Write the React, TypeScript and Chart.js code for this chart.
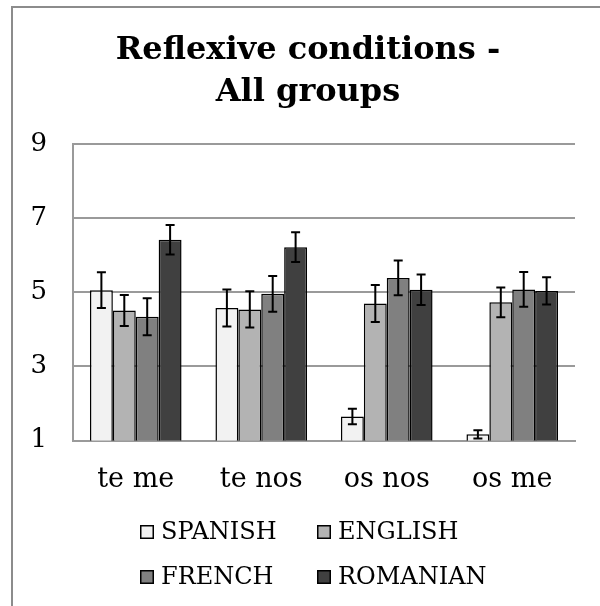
import React, { useEffect, useRef } from "react";
import { Chart, registerables } from "chart.js";

Chart.register(...registerables);

const categories = ["te me", "te nos", "os nos", "os me"];
const seriesNames = ["SPANISH", "ENGLISH", "FRENCH", "ROMANIAN"];
const spanish = [5.06, 4.58, 1.65, 1.17];
const english = [4.51, 4.54, 4.7, 4.73];
const french = [4.34, 4.96, 5.39, 5.08];
const romanian = [6.42, 6.22, 5.07, 5.04];
const spanishErr = [0.48, 0.5, 0.21, 0.11];
const englishErr = [0.42, 0.49, 0.5, 0.4];
const frenchErr = [0.5, 0.48, 0.47, 0.47];
const romanianErr = [0.4, 0.4, 0.41, 0.37];
const yTicks = [1, 3, 5, 7, 9];
const titleLines = ["Reflexive conditions -", "All groups"];

const colors = ["#f2f2f2", "#b3b3b3", "#808080", "#404040"];
const FONT = "'DejaVu Serif', serif";

const errorBarPlugin = {
  id: "errorBars",
  afterDatasetsDraw(chart: any) {
    const ctx = chart.ctx;
    const yScale = chart.scales.y;
    ctx.save();
    ctx.strokeStyle = "#000";
    ctx.lineWidth = 2;
    chart.data.datasets.forEach((ds: any, i: number) => {
      const meta = chart.getDatasetMeta(i);
      meta.data.forEach((bar: any, j: number) => {
        const v = ds.data[j];
        const e = ds.errors[j];
        const top = yScale.getPixelForValue(v + e);
        const bot = yScale.getPixelForValue(v - e);
        const x = bar.x;
        const cap = 4.5;
        ctx.beginPath();
        ctx.moveTo(x, top);
        ctx.lineTo(x, bot);
        ctx.moveTo(x - cap, top);
        ctx.lineTo(x + cap, top);
        ctx.moveTo(x - cap, bot);
        ctx.lineTo(x + cap, bot);
        ctx.stroke();
      });
    });
    ctx.restore();
  },
};

const frameLegendPlugin = {
  id: "frameLegend",
  beforeDraw(chart: any) {
    const ctx = chart.ctx;
    ctx.save();
    ctx.fillStyle = "#fff";
    ctx.fillRect(0, 0, chart.width, chart.height);
    ctx.strokeStyle = "#8c8c8c";
    ctx.lineWidth = 2;
    ctx.beginPath();
    ctx.moveTo(12, chart.height);
    ctx.lineTo(12, 7);
    ctx.lineTo(chart.width, 7);
    ctx.stroke();
    ctx.restore();
  },
  afterDraw(chart: any) {
    const ctx = chart.ctx;
    const colX = [140, 317];
    const rowY = [532, 577];
    ctx.save();
    ctx.font = `24px ${FONT}`;
    ctx.textBaseline = "middle";
    ctx.textAlign = "left";
    chart.data.datasets.forEach((ds: any, i: number) => {
      const x = colX[i % 2];
      const y = rowY[Math.floor(i / 2)];
      ctx.fillStyle = ds.backgroundColor;
      ctx.fillRect(x, y - 7, 14, 14);
      ctx.strokeStyle = "#000";
      ctx.lineWidth = 1.5;
      ctx.strokeRect(x + 0.75, y - 6.25, 12.5, 12.5);
      ctx.fillStyle = "#000";
      ctx.fillText(ds.label, x + 21, y + 1);
    });
    ctx.restore();
  },
};

export default function App() {
  const ref = useRef<HTMLCanvasElement>(null);
  useEffect(() => {
    document.body.style.margin = "0";
    const series = [spanish, english, french, romanian];
    const errs = [spanishErr, englishErr, frenchErr, romanianErr];
    const chart = new Chart(ref.current as HTMLCanvasElement, {
      type: "bar",
      data: {
        labels: categories,
        datasets: series.map((d, i) => ({
          label: seriesNames[i],
          data: d,
          errors: errs[i],
          backgroundColor: colors[i],
          borderColor: "#000",
          borderWidth: 1.5,
          categoryPercentage: 0.73,
          barPercentage: 1.0,
          yAxisID: "y",
        })) as any,
      },
      options: {
        animation: false,
        responsive: true,
        maintainAspectRatio: false,
        layout: { padding: { left: 16, right: 0, top: 0, bottom: 87 } },
        plugins: {
          legend: { display: false },
          tooltip: { enabled: false },
          title: {
            display: true,
            text: titleLines,
            color: "#000",
            font: { family: FONT, size: 32, weight: "bold", lineHeight: 1.33 },
            padding: { top: 29, bottom: 30 },
          },
        },
        scales: {
          x: {
            grid: { display: false, drawTicks: false },
            border: { display: true, color: "#9a9a9a", width: 2 },
            ticks: { color: "#000", font: { family: FONT, size: 27 }, padding: 23 },
          },
          y: {
            min: 1,
            max: 9,
            afterBuildTicks: (s: any) => {
              s.ticks = yTicks.map((v) => ({ value: v }));
            },
            afterFit: (s: any) => {
              s.width = 57;
            },
            grid: { color: "#9a9a9a", lineWidth: 2, drawTicks: false },
            border: { display: true, color: "#9a9a9a", width: 2 },
            ticks: { color: "#000", font: { family: FONT, size: 26 }, padding: 26 },
          },
          y2: {
            type: "linear",
            position: "right",
            min: 0,
            max: 1,
            grid: { display: false, drawTicks: false },
            border: { display: false },
            ticks: { display: false },
            afterFit: (s: any) => {
              s.width = 25;
            },
          },
        },
      } as any,
      plugins: [errorBarPlugin, frameLegendPlugin],
    });
    return () => chart.destroy();
  }, []);
  return (
    <div style={{ width: 600, height: 606, position: "relative" }}>
      <canvas ref={ref} />
    </div>
  );
}
